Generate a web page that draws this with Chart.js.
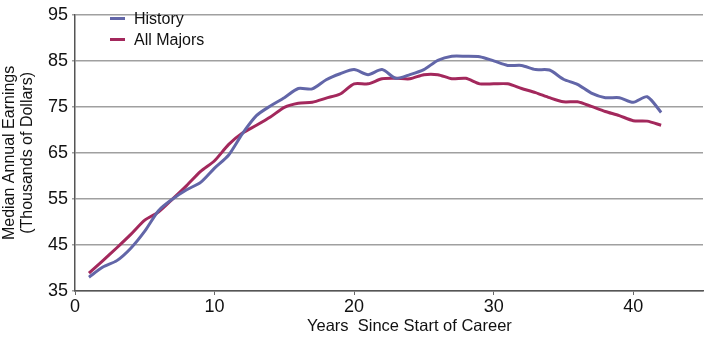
<!DOCTYPE html>
<html>
<head>
<meta charset="utf-8">
<script src="https://cdn.jsdelivr.net/npm/chart.js@4/dist/chart.umd.min.js"></script>
<style>
    html, body { margin: 0; padding: 0; background: #fff; }
    #wrap { position: relative; width: 704px; height: 337px; }
    #legend {
        position: absolute; left: 110px; top: 8px;
        font-family: "Liberation Sans", Arial, sans-serif; font-size: 16px; color: #111;
    }
    #legend div { height: 21px; line-height: 21px; white-space: nowrap; }
    #legend span.swatch {
        display: inline-block; width: 15px; height: 3px; vertical-align: middle;
        margin-right: 9px; position: relative; top: -1px;
    }
    #x-title {
        position: absolute; left: 307px; top: 316px; white-space: pre;
        font-family: "Liberation Sans", Arial, sans-serif; font-size: 16.5px; color: #111;
    }
</style>
</head>
<body>
<div id="wrap">
    <canvas id="earnings-chart" width="704" height="337"></canvas>
    <div id="legend">
        <div><span class="swatch" style="background:#6266a8"></span>History</div>
        <div><span class="swatch" style="background:#a3285c"></span>All Majors</div>
    </div>
    <div id="x-title">Years  Since Start of Career</div>
</div>
<script>
// ------------------------
// DATA
// ------------------------

const years = [1, 2, 3, 4, 5, 6, 7, 8, 9, 10,
    11, 12, 13, 14, 15, 16, 17, 18, 19, 20,
    21, 22, 23, 24, 25, 26, 27, 28, 29, 30,
    31, 32, 33, 34, 35, 36, 37, 38, 39, 40,
    41, 42];

const historyEarnings = [38, 40.2, 41.6, 44.3, 48, 52.5, 55, 57, 58.6, 61.7,
    64.5, 69.2, 73.1, 75.2, 77, 79, 78.9, 80.9, 82.2, 83.1,
    82, 83.1, 81.2, 82, 83.1, 85.1, 86, 86, 85.9, 85,
    84, 84, 83.1, 83, 81, 79.9, 78, 77, 77, 76,
    77.2, 73.8];

const allMajorsEarnings = [38.9, 41.6, 44.4, 47.3, 50.4, 52.2, 55, 57.9, 61, 63.3,
    66.8, 69.3, 71, 72.8, 74.9, 75.8, 76, 76.9, 77.8, 80,
    80, 81.1, 81.2, 81.1, 82, 82, 81.1, 81.2, 80, 80,
    80, 79, 78.1, 77, 76.1, 76.1, 75.1, 74, 73.1, 72,
    71.9, 71];

const xTicks = [0, 10, 20, 30, 40];
const yTicks = [35, 45, 55, 65, 75, 85, 95];

// ------------------------
// CHART
// ------------------------

const toPoints = vals => years.map((yr, i) => ({ x: yr, y: vals[i] }));

const family = '"Liberation Sans", Arial, sans-serif';

new Chart(document.getElementById("earnings-chart"), {
    type: "line",
    data: {
        datasets: [
            {
                label: "History",
                data: toPoints(historyEarnings),
                borderColor: "#6266a8",
                borderWidth: 3,
                pointRadius: 0,
                tension: 0.25,
                fill: false
            },
            {
                label: "All Majors",
                data: toPoints(allMajorsEarnings),
                borderColor: "#a3285c",
                borderWidth: 3,
                pointRadius: 0,
                tension: 0.25,
                fill: false
            }
        ]
    },
    options: {
        responsive: false,
        animation: false,
        parsing: false,
        layout: { padding: { top: 9, right: 1, left: 0, bottom: 0 } },
        plugins: {
            legend: { display: false },
            tooltip: { enabled: false }
        },
        scales: {
            x: {
                type: "linear",
                min: 0,
                max: 45,
                afterFit: s => { s.height = 46; s.paddingRight = 0; },
                afterBuildTicks: s => { s.ticks = xTicks.map(v => ({ value: v })); },
                ticks: { color: "#111", font: { family, size: 18 }, padding: 1 },
                grid: { drawOnChartArea: false, tickLength: 4, color: "#666" },
                border: { color: "#555", width: 1.5 }
            },
            y: {
                min: 35,
                max: 95,
                afterFit: s => { s.width = 75; },
                afterBuildTicks: s => { s.ticks = yTicks.map(v => ({ value: v })); },
                ticks: { color: "#111", font: { family, size: 18 }, padding: 4 },
                grid: { color: "#a0a0a0", lineWidth: 1.5, tickLength: 3 },
                border: { color: "#555", width: 1.5 },
                title: {
                    display: true,
                    text: ["Median Annual Earnings", "(Thousands of Dollars)"],
                    color: "#111",
                    font: { family, size: 16, lineHeight: 1.15 },
                    padding: { top: 0, bottom: 0 }
                }
            }
        }
    }
});
</script>
</body>
</html>
